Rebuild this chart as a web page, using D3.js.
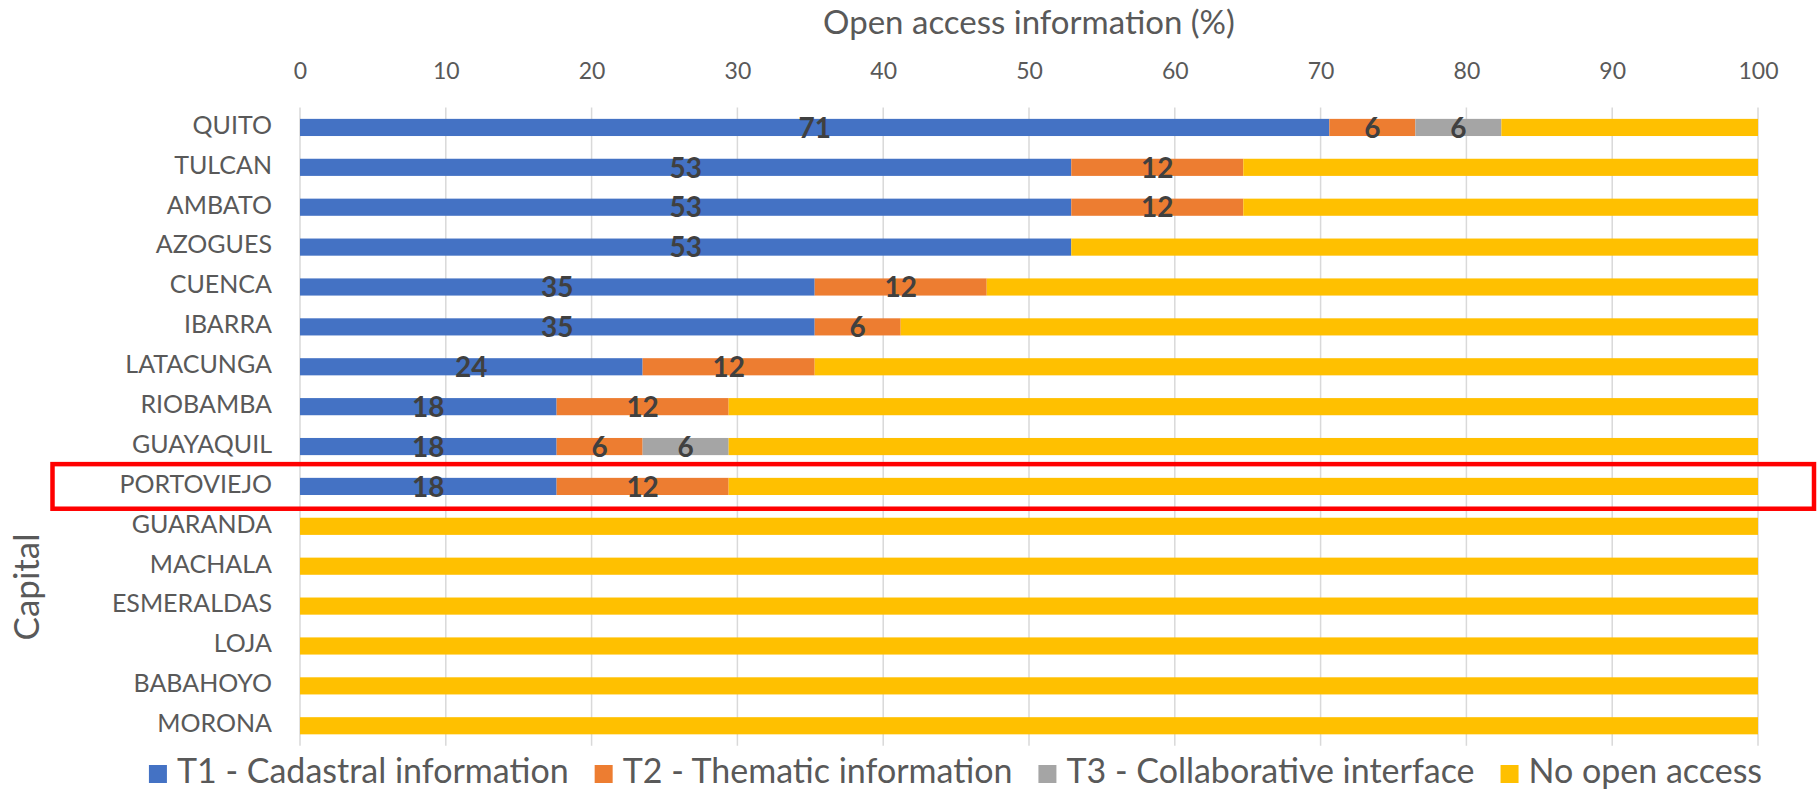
<!DOCTYPE html>
<html>
<head>
<meta charset="utf-8">
<script src="https://cdn.jsdelivr.net/npm/d3@7"></script>
<style>
  html, body { margin: 0; padding: 0; background: #fff; }
  svg { display: block; font-family: Lato, "Open Sans", sans-serif; }
</style>
</head>
<body>
<div id="cnt"></div>
<script>
const capitals = ['QUITO', 'TULCAN', 'AMBATO', 'AZOGUES', 'CUENCA', 'IBARRA', 'LATACUNGA', 'RIOBAMBA',
    'GUAYAQUIL', 'PORTOVIEJO', 'GUARANDA', 'MACHALA', 'ESMERALDAS', 'LOJA', 'BABAHOYO', 'MORONA']
const t1 = [70.6, 52.9, 52.9, 52.9, 35.3, 35.3, 23.5, 17.6, 17.6, 17.6, 0, 0, 0, 0, 0, 0]
const t2 = [5.9, 11.8, 11.8, 0, 11.8, 5.9, 11.8, 11.8, 5.9, 11.8, 0, 0, 0, 0, 0, 0]
const t3 = [5.9, 0, 0, 0, 0, 0, 0, 0, 5.9, 0, 0, 0, 0, 0, 0, 0]
const noAccess = [17.6, 35.3, 35.3, 47.1, 52.9, 58.8, 64.7, 70.6, 70.6, 70.6, 100, 100, 100, 100, 100, 100]
const seriesNames = ['T1 - Cadastral information', 'T2 - Thematic information', 'T3 - Collaborative interface', 'No open access']
const seriesKeys = ['t1', 't2', 't3', 'no']
const colors = ['#4472C4', '#ED7D31', '#A5A5A5', '#FFC000']
const xTicks = [0, 10, 20, 30, 40, 50, 60, 70, 80, 90, 100]
const highlighted = 'PORTOVIEJO'

const width = 1818
const height = 792
const textColor = '#595959'
const labelColor = '#404040'

const rows = capitals.map((c, i) => ({ capital: c, t1: t1[i], t2: t2[i], t3: t3[i], no: noAccess[i] }))
const stacked = d3.stack().keys(seriesKeys)(rows)

const x = d3.scaleLinear().domain([0, 100]).range([300, 1758])
const y = d3.scaleBand().domain(capitals).range([107.5, 745.7]).paddingInner(0.57).paddingOuter(0.285)
const color = d3.scaleOrdinal().domain(seriesKeys).range(colors)

const svg = d3.select('#cnt')
    .append('svg')
    .attr('width', width)
    .attr('height', height)

// grid
svg.append('g')
    .selectAll('line')
    .data(xTicks)
    .join('line')
    .attr('x1', d => x(d))
    .attr('x2', d => x(d))
    .attr('y1', y.range()[0])
    .attr('y2', y.range()[1])
    .attr('stroke', '#d9d9d9')
    .attr('stroke-width', 1.5)

// top axis
const xAxis = svg.append('g')
    .attr('transform', 'translate(0, 79)')
    .call(d3.axisTop(x).tickValues(xTicks).tickSize(0).tickPadding(0))
xAxis.select('.domain').remove()
xAxis.selectAll('text')
    .attr('fill', textColor)
    .style('font-size', '23px')
    .style('font-family', 'Lato')

svg.append('text')
    .attr('x', (x(0) + x(100)) / 2)
    .attr('y', 34)
    .attr('text-anchor', 'middle')
    .attr('fill', textColor)
    .style('font-size', '33px')
    .text('Open access information (%)')

// category labels
svg.append('g')
    .selectAll('text')
    .data(capitals)
    .join('text')
    .attr('x', 272)
    .attr('y', d => y(d) + y.bandwidth() / 2)
    .attr('text-anchor', 'end')
    .attr('dominant-baseline', 'middle')
    .attr('fill', textColor)
    .style('font-size', '25px')
    .text(d => d)

svg.append('text')
    .attr('transform', 'translate(30, 587) rotate(-90)')
    .attr('text-anchor', 'middle')
    .attr('dominant-baseline', 'middle')
    .attr('fill', textColor)
    .style('font-size', '35px')
    .text('Capital')

// bars
const layers = svg.append('g')
    .selectAll('g')
    .data(stacked)
    .join('g')
    .attr('fill', d => color(d.key))

layers.selectAll('rect')
    .data(d => d)
    .join('rect')
    .attr('x', d => x(d[0]))
    .attr('y', d => y(d.data.capital))
    .attr('width', d => x(d[1]) - x(d[0]))
    .attr('height', y.bandwidth())

// data labels (not for "No open access")
const labelled = stacked.filter(s => s.key !== 'no')
    .flatMap(s => s.filter(d => d[1] - d[0] > 0))

svg.append('g')
    .selectAll('text')
    .data(labelled)
    .join('text')
    .attr('x', d => x((d[0] + d[1]) / 2))
    .attr('y', d => y(d.data.capital) + y.bandwidth() / 2 + 3)
    .attr('text-anchor', 'middle')
    .attr('dominant-baseline', 'middle')
    .attr('fill', labelColor)
    .style('font-size', '28px')
    .style('font-weight', 'bold')
    .text(d => Math.round(d[1] - d[0]))

// highlight box
const hy = y(highlighted) + y.bandwidth() / 2
svg.append('rect')
    .attr('x', 52.5)
    .attr('y', hy - 22.3)
    .attr('width', 1761.5)
    .attr('height', 44.6)
    .attr('fill', 'none')
    .attr('stroke', '#ff0000')
    .attr('stroke-width', 4.5)

// legend
const legend = svg.append('g')
const sq = 18
let lx = 0
seriesNames.forEach((name, i) => {
    const item = legend.append('g').attr('transform', `translate(${lx}, 0)`)
    item.append('rect')
        .attr('x', 0)
        .attr('y', -sq / 2)
        .attr('width', sq)
        .attr('height', sq)
        .attr('fill', colors[i])
    const t = item.append('text')
        .attr('x', sq + 10)
        .attr('y', 0)
        .attr('dominant-baseline', 'middle')
        .attr('fill', textColor)
        .style('font-size', '34px')
        .text(name)
    lx += sq + 10 + t.node().getComputedTextLength() + 26
})
const legendWidth = lx - 26
legend.attr('transform', `translate(${955.5 - legendWidth / 2}, 774)`)
</script>
</body>
</html>
